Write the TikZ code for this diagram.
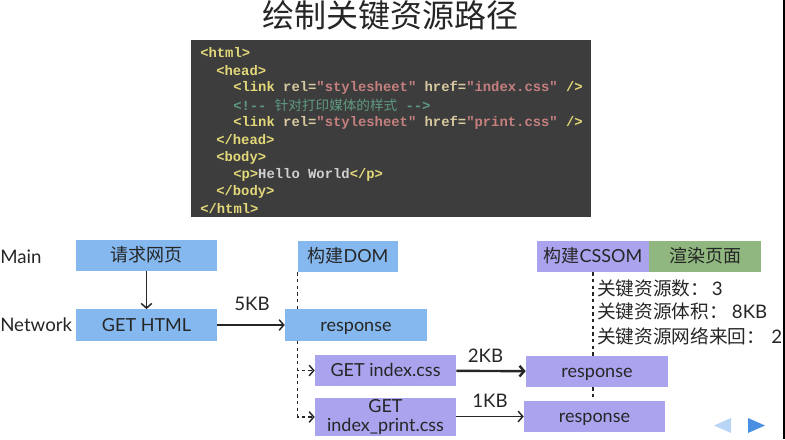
\documentclass[tikz,border=0pt]{standalone}
\usepackage{fontspec}
\usepackage{color}
\usetikzlibrary{arrows.meta}
\setmainfont{Lato}
\newfontfamily\cjk{Noto Sans CJK SC}
\newfontfamily\codefont{Liberation Mono}[Scale=1]
\definecolor{bluefill}{HTML}{85B8EE}
\definecolor{purplefill}{HTML}{AAA4EE}
\definecolor{greenfill}{HTML}{8FB77F}
\definecolor{codebg}{HTML}{3D3D3D}
\definecolor{tagcol}{HTML}{E3D879}
\definecolor{attrcol}{HTML}{D9C9A0}
\definecolor{valcol}{HTML}{C57F7F}
\definecolor{notecol}{HTML}{5F9A80}
\definecolor{plaincol}{HTML}{CFCFCF}
\definecolor{inkcol}{HTML}{262626}
\definecolor{navback}{HTML}{B9D5F5}
\definecolor{navnext}{HTML}{4A90E2}
\newcommand{\tg}[1]{\textcolor{tagcol}{\textbf{#1}}}
\newcommand{\at}[1]{\textcolor{attrcol}{\textbf{#1}}}
\newcommand{\vl}[1]{\textcolor{valcol}{\textbf{#1}}}
\begin{document}
\begin{tikzpicture}[x=0.75pt,y=-0.75pt,>={Straight Barb[length=3.5pt,width=8pt]},
  every node/.style={text=inkcol,font=\fontsize{13.5}{15.5}\selectfont},
  bluebox/.style={fill=bluefill,inner sep=0pt,minimum height=23.5pt,align=center,text height=12.5pt,text depth=3pt},
  purplebox/.style={bluebox,fill=purplefill},
  greenbox/.style={bluebox,fill=greenfill},
  codeline/.style={anchor=west,inner sep=0pt,font=\codefont\fontsize{10.4}{12}\selectfont},
  lane/.style={anchor=west,inner sep=0pt,font=\fontsize{14}{16}\selectfont},
  dashline/.style={line width=1.1pt,dash pattern=on 2.5pt off 2.5pt,inkcol},
  link/.style={->,inkcol,line width=1.1pt}]
\useasboundingbox (0,0) rectangle (785,439);
\fill[black] (783,0) rectangle (785,439);
\node[font=\cjk\fontsize{24}{28}\selectfont] (title) at (390,15) {绘制关键资源路径};
\node[fill=codebg,inner sep=0pt,minimum width=300pt,minimum height=133pt] (code) at (391,128.5) {};
\node[codeline] (l1) at (200,53) {\tg{<html>}};
\node[codeline] (l2) at (216,70.5) {\tg{<head>}};
\node[codeline] (l3) at (233,88) {\tg{<link} \at{rel=}\vl{"stylesheet"} \at{href=}\vl{"index.css"} \tg{/>}};
\node[codeline] (l4) at (233,105.5) {\textcolor{notecol}{\textbf{<!--} {\cjk\fontsize{10.2}{12}\selectfont 针对打印媒体的样式} \textbf{-->}}};
\node[codeline] (l5) at (233,123) {\tg{<link} \at{rel=}\vl{"stylesheet"} \at{href=}\vl{"print.css"} \tg{/>}};
\node[codeline] (l6) at (216,140) {\tg{</head>}};
\node[codeline] (l7) at (216,157.5) {\tg{<body>}};
\node[codeline] (l8) at (233,175) {\tg{<p>}\textcolor{plaincol}{\textbf{Hello World}}\tg{</p>}};
\node[codeline] (l9) at (216,192) {\tg{</body>}};
\node[codeline] (l10) at (200,209) {\tg{</html>}};
\node[lane] (mainlabel) at (0,257) {Main};
\node[lane] (netlabel) at (0,325) {Network};
\node[bluebox,minimum width=105.75pt] (req) at (146.5,255.5) {\cjk 请求网页};
\node[bluebox,minimum width=105.75pt] (gethtml) at (146.5,325) {GET HTML};
\node[bluebox,minimum width=75pt] (dom) at (348,256.5) {{\cjk 构建}DOM};
\node[bluebox,minimum width=106.5pt] (resp) at (356,325) {response};
\node[purplebox,minimum width=105.75pt] (getindex) at (385.5,370.5) {GET index.css};
\node[purplebox,minimum width=105.75pt,minimum height=28.5pt,text height={},text depth={}] (getprint) at (385.5,417) {GET\\[-1pt]index\_print.css};
\node[purplebox,minimum width=84pt] (cssom) at (593,256.5) {{\cjk 构建}CSSOM};
\node[greenbox,minimum width=84pt] (render) at (705,256.5) {\cjk 渲染页面};
\node[purplebox,minimum width=106.5pt] (respindex) at (597,371.5) {response};
\node[purplebox,minimum width=105.75pt] (respprint) at (594.5,416.5) {response};
\node[font=\fontsize{14}{16}\selectfont] (sizea) at (252,304) {5KB};
\node[font=\fontsize{14}{16}\selectfont] (sizeb) at (485.5,356) {2KB};
\node[font=\fontsize{14}{16}\selectfont] (sizec) at (490,401) {1KB};
\node[lane] (facta) at (597,288) {{\cjk 关键资源数：}\hspace{2pt}3};
\node[lane] (factb) at (597,311.5) {{\cjk 关键资源体积：}\hspace{3pt}8KB};
\node[lane] (factc) at (597,336) {{\cjk 关键资源网络来回：}\hspace{4.5pt}2};
\draw[link] (req) -- (gethtml);
\draw[link] (gethtml) -- (resp);
\draw[link,line width=1.8pt] (getindex) -- (respindex);
\draw[link] (getprint.east |- respprint) -- (respprint);
\draw[dashline] (dom.south west) -- (dom.south west |- resp.north);
\draw[dashline,->] (dom.south west |- resp.south) |- (getindex);
\draw[dashline,->] (dom.south west |- resp.south) |- (getprint);
\draw[dashline] (cssom.south) -- (respindex.north -| cssom.south);
\draw[dashline] (respindex.south -| cssom.south) -- (respprint.north -| cssom.south);
\fill[navback] (731,418) -- (731,433) -- (714,425.5) -- cycle;
\fill[navnext] (748,418) -- (748,433) -- (765,425.5) -- cycle;
\end{tikzpicture}
\end{document}
